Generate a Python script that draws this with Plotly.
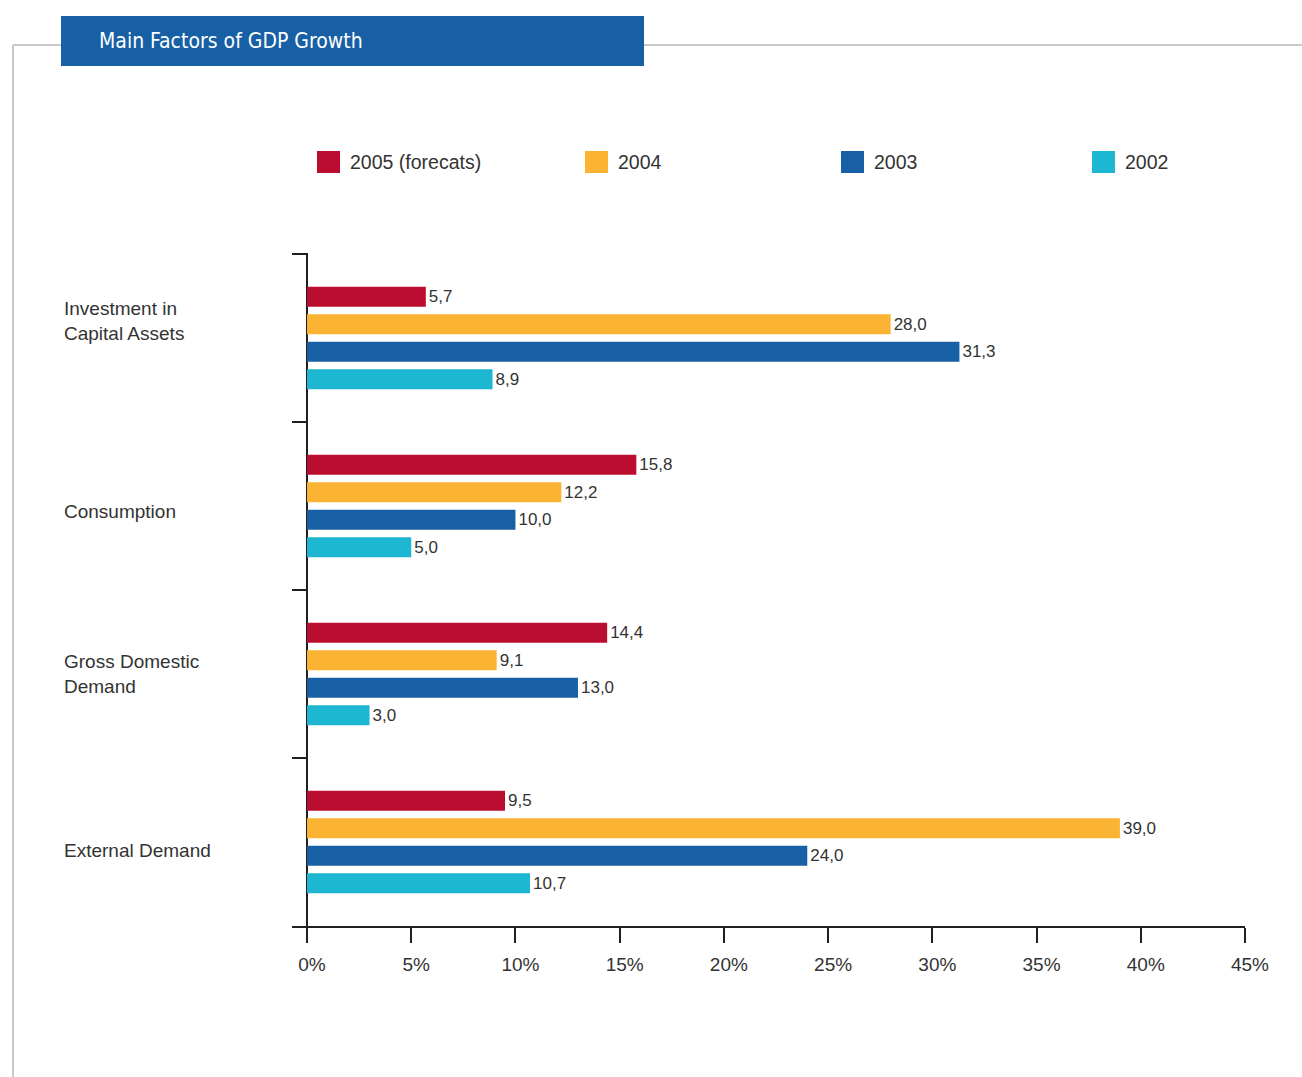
import plotly.graph_objects as go

categories = ["Investment in<br>Capital Assets", "Consumption", "Gross Domestic<br>Demand", "External Demand"]
series_names = ["2005 (forecats)", "2004", "2003", "2002"]
series_colors = ["#BA0C2F", "#FBB334", "#1760A5", "#1EB7D1"]
values = {
    "2005 (forecats)": [5.7, 15.8, 14.4, 9.5],
    "2004": [28.0, 12.2, 9.1, 39.0],
    "2003": [31.3, 10.0, 13.0, 24.0],
    "2002": [8.9, 5.0, 3.0, 10.7],
}
x_ticks = [0, 5, 10, 15, 20, 25, 30, 35, 40, 45]

W, H = 1302, 1077
L, R, T, B = 292, 57, 253, 151
PW, PH = W - L - R, H - T - B

def px(x):
    return (x - L) / PW

def py(y):
    return (H - B - y) / PH

TEXT = "#333333"
FONT = "Liberation Sans, Arial, sans-serif"

fig = go.Figure()
ypos = list(range(len(categories)))
for name, color in zip(series_names, series_colors):
    fig.add_trace(go.Bar(
        name=name, orientation="h", x=values[name], y=ypos,
        marker=dict(color=color, line=dict(width=0)),
        texttemplate="%{x:.1f}", textposition="outside",
        textfont=dict(color=TEXT, size=17, family=FONT),
        cliponaxis=False, showlegend=False,
    ))

shapes = []
annotations = []

# frame lines
shapes.append(dict(type="line", xref="paper", yref="paper", x0=px(13), x1=px(13), y0=py(45), y1=py(H + 5),
                   line=dict(color="#C8C8C8", width=2), layer="below"))
shapes.append(dict(type="line", xref="paper", yref="paper", x0=px(13), x1=px(W + 5), y0=py(45), y1=py(45),
                   line=dict(color="#C8C8C8", width=2), layer="below"))
# title banner
shapes.append(dict(type="rect", xref="paper", yref="paper", x0=px(61), x1=px(644), y0=py(66), y1=py(16),
                   fillcolor="#1760A5", line=dict(width=0), layer="above"))
annotations.append(dict(text="Main Factors of GDP Growth", xref="paper", yref="paper",
                        x=px(97), y=py(41), xanchor="left", yanchor="middle", showarrow=False,
                        font=dict(color="white", size=21, family="DejaVu Sans Condensed, DejaVu Sans, sans-serif")))

# legend
legend_x = [317, 585, 841, 1092]
for name, color, lx in zip(series_names, series_colors, legend_x):
    shapes.append(dict(type="rect", xref="paper", yref="paper", x0=px(lx), x1=px(lx + 23),
                       y0=py(173), y1=py(151), fillcolor=color, line=dict(width=0)))
    annotations.append(dict(text=name, xref="paper", yref="paper", x=px(lx + 31), y=py(162),
                            xanchor="left", yanchor="middle", showarrow=False,
                            font=dict(color=TEXT, size=19.5, family=FONT)))

# category labels
label_shift = [17, -5, 0, -8]
for i, (cat, s) in enumerate(zip(categories, label_shift)):
    annotations.append(dict(text=cat, xref="paper", yref="y", x=px(62), y=i, yshift=s,
                            xanchor="left", yanchor="middle", align="left", showarrow=False,
                            font=dict(color=TEXT, size=19, family=FONT)))

fig.update_layout(
    width=W, height=H,
    margin=dict(l=L, r=R, t=T, b=B),
    paper_bgcolor="white", plot_bgcolor="white",
    barmode="group", bargap=0.345, bargroupgap=0.27,
    separators=", ",
    shapes=shapes, annotations=annotations,
    showlegend=False,
    xaxis=dict(
        range=[-0.72, 45], tickvals=x_ticks, ticktext=[f"{v}%" for v in x_ticks],
        showgrid=False, zeroline=True, zerolinecolor="#231F20", zerolinewidth=2,
        showline=True, linecolor="#231F20", linewidth=2,
        ticks="outside", ticklen=15, tickwidth=2, tickcolor="#231F20",
        ticklabelshift=5, ticklabelstandoff=5,
        tickfont=dict(color=TEXT, size=19, family=FONT),
    ),
    yaxis=dict(
        range=[3.5, -0.506], tickvals=[-0.5, 0.5, 1.5, 2.5, 3.5], ticktext=["", "", "", "", ""],
        showgrid=False, zeroline=False, showline=False,
        ticks="inside", ticklen=15, tickwidth=2, tickcolor="#231F20",
    ),
)

fig.write_html("out.html", config={"displayModeBar": False},
               post_script="document.body.style.margin='0';document.body.style.overflow='hidden';")
